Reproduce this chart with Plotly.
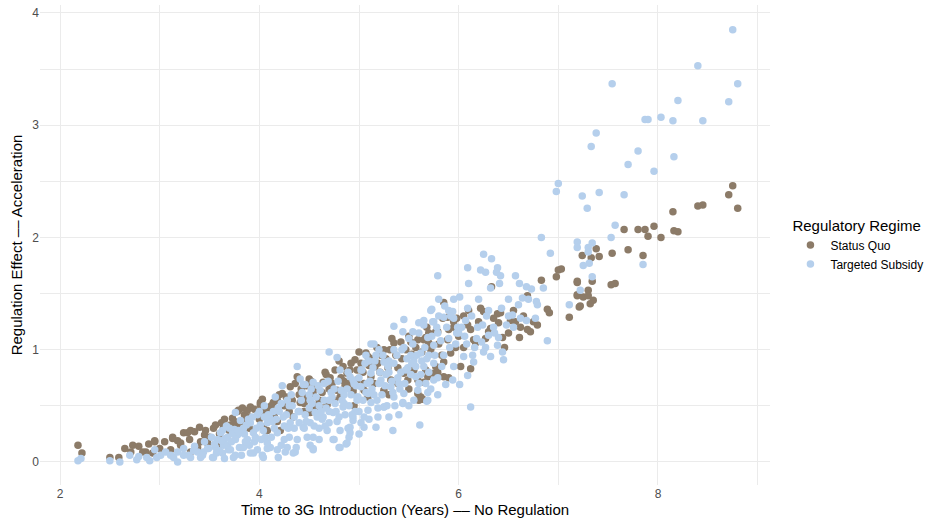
import plotly.graph_objects as go

# ---- Data ----
sq_x = [2.18, 2.22, 2.50, 2.59, 2.73, 2.79, 2.71, 2.86, 2.89, 2.95, 3.05, 3.13, 3.18, 3.24, 3.28, 3.35, 3.40, 3.46, 3.54, 3.64,
        3.73, 3.78, 3.11, 3.21, 3.31, 3.38, 3.48, 3.58,
        3.31, 3.56, 3.71, 3.79, 3.83, 3.91, 4.01, 4.06, 3.99, 3.81, 3.78, 3.84, 2.83, 2.93, 3.21, 3.41, 3.13, 2.95,
        4.01, 4.14, 4.23, 4.31, 4.38, 4.48, 4.54, 4.64, 4.71, 4.84, 4.88, 4.98, 5.02, 5.09, 5.10, 5.05, 4.94, 4.81,
        4.68, 4.51, 4.34, 4.18, 4.08, 4.04, 4.21, 4.41, 4.61, 4.78,
        5.35, 5.42, 5.52, 5.59, 5.65, 5.70, 5.77, 5.25, 5.22, 5.19, 5.29, 5.39, 5.45, 5.55, 5.59, 5.69, 5.75, 5.62,
        5.49, 5.39, 5.12, 5.05, 4.98, 4.91, 4.94, 5.09, 5.25, 5.32,
        7.00, 6.98, 6.83, 7.19, 7.19, 7.21, 6.33, 6.69, 6.89, 6.91, 6.22, 6.25, 6.39, 6.42, 6.40, 6.52, 6.57, 6.62,
        6.69, 6.72, 6.79, 6.61, 6.32, 6.30, 6.44, 6.46, 6.15, 6.17, 6.09, 6.12, 5.98, 5.95, 5.89, 5.79, 5.67, 5.70,
        5.89, 5.97, 6.05, 5.92, 5.85, 6.02, 6.12, 5.77, 5.79, 5.67, 5.65, 5.85, 5.90, 5.64, 5.85, 5.84,
        8.15, 7.66, 7.80, 7.87, 7.90, 7.96, 8.03, 8.16, 8.20, 7.38, 7.24, 7.33, 7.41, 7.54, 7.70, 7.85, 7.03, 7.19,
        7.34, 7.53, 7.57, 7.30, 7.19, 7.25, 7.30, 7.35, 7.32, 7.22, 7.11,
        8.75, 8.71, 8.40, 8.45, 8.80,
        4.10, 4.25, 4.40, 4.55, 4.70, 4.85, 4.45, 4.60, 4.90, 3.90, 3.60, 3.70, 5.59, 5.60,
        3.85, 3.95, 4.05, 4.12, 4.18, 4.27, 4.33, 4.42, 4.47, 4.52, 4.58, 4.63, 4.67, 4.73, 4.76, 4.82, 4.86, 4.92,
        4.96, 5.04, 5.07, 5.13, 5.16, 5.21, 5.27, 5.31, 5.37, 5.43, 5.47, 5.53, 5.57, 5.63, 5.72, 5.80, 5.83, 5.90,
        6.00, 6.05, 6.20, 6.27, 6.35, 6.50, 6.55, 6.65, 6.75,
        3.90, 4.00, 4.15, 4.30, 4.45, 4.55, 4.75, 4.95, 5.15, 5.30, 5.50, 3.50, 3.65, 3.75, 3.30, 3.00, 2.65,
        3.45, 3.62, 3.88, 4.03, 4.20, 4.36, 4.50, 4.66, 4.80, 5.00, 5.18, 5.33, 5.50, 5.68, 5.95, 6.10]
sq_y = [0.15, 0.08, 0.04, 0.04, 0.15, 0.14, 0.09, 0.09, 0.16, 0.19, 0.18, 0.21, 0.19, 0.26, 0.26, 0.27, 0.31, 0.28, 0.30, 0.31,
        0.39, 0.45, 0.11, 0.15, 0.09, 0.13, 0.17, 0.15,
        0.28, 0.33, 0.33, 0.46, 0.48, 0.49, 0.51, 0.49, 0.44, 0.36, 0.31, 0.36, 0.09, 0.08, 0.17, 0.18, 0.22, 0.18,
        0.53, 0.53, 0.61, 0.67, 0.76, 0.58, 0.61, 0.71, 0.75, 0.85, 0.79, 0.82, 0.88, 0.94, 0.86, 0.70, 0.61, 0.58,
        0.51, 0.44, 0.40, 0.36, 0.28, 0.31, 0.28, 0.53, 0.49, 0.64,
        1.06, 1.07, 1.07, 1.09, 1.09, 1.15, 1.16, 1.00, 0.95, 0.88, 0.84, 0.84, 0.79, 0.82, 0.73, 0.76, 0.79, 0.58,
        0.73, 0.70, 0.76, 0.64, 0.73, 0.82, 0.64, 0.58, 0.64, 0.73,
        1.71, 1.65, 1.62, 1.60, 1.49, 1.38, 1.56, 1.48, 1.36, 1.33, 1.37, 1.34, 1.32, 1.33, 1.24, 1.26, 1.25, 1.20,
        1.18, 1.16, 1.22, 1.11, 1.19, 1.16, 1.11, 1.02, 1.09, 1.06, 1.22, 1.18, 1.28, 1.20, 1.29, 1.16, 1.11, 1.06,
        1.09, 1.02, 1.02, 0.97, 0.89, 0.85, 0.83, 0.85, 0.80, 0.82, 0.71, 0.76, 0.75, 0.56, 1.42, 1.28,
        2.23, 2.07, 2.07, 2.07, 2.01, 2.10, 2.00, 2.06, 2.05, 1.90, 1.84, 1.82, 1.83, 1.86, 1.89, 1.84, 1.72, 1.61,
        1.61, 1.58, 1.59, 1.53, 1.48, 1.47, 1.48, 1.44, 1.41, 1.39, 1.29,
        2.46, 2.38, 2.28, 2.29, 2.26,
        0.45, 0.50, 0.60, 0.68, 0.65, 0.72, 0.45, 0.55, 0.70, 0.40, 0.25, 0.28, 0.61, 0.55,
        0.42, 0.47, 0.45, 0.50, 0.55, 0.58, 0.55, 0.65, 0.68, 0.72, 0.66, 0.62, 0.78, 0.70, 0.82, 0.75, 0.68, 0.88,
        0.91, 0.80, 0.97, 0.92, 0.85, 0.80, 0.92, 1.00, 0.95, 0.92, 1.00, 0.96, 1.02, 0.98, 1.00, 1.05, 0.95, 1.18,
        1.12, 1.30, 1.25, 1.10, 1.28, 1.15, 1.35, 1.30, 1.25,
        0.30, 0.38, 0.42, 0.45, 0.52, 0.50, 0.55, 0.50, 0.70, 0.60, 0.65, 0.22, 0.38, 0.36, 0.20, 0.12, 0.12,
        0.24, 0.35, 0.46, 0.56, 0.60, 0.70, 0.74, 0.80, 0.90, 0.98, 1.02, 1.10, 1.12, 1.20, 1.25, 1.35]

ts_x = [8.75, 8.40, 8.80, 7.54, 8.71, 8.20, 7.87, 7.90, 8.03, 8.15, 8.45, 7.38, 7.33, 7.80, 7.70, 8.16, 7.96, 7.00, 6.98, 7.24,
        7.41, 7.66, 7.29,
        7.57, 7.53, 7.19, 7.19, 7.34, 7.30, 7.30, 7.31, 7.25, 7.85, 7.34, 7.22, 7.11, 6.83,
        6.25, 6.33, 6.92, 6.09, 6.22, 6.27, 6.39, 6.38, 6.42, 5.79, 6.57, 6.61, 6.10, 6.41, 6.32, 6.68, 6.73, 6.64,
        6.78, 6.79, 5.95, 6.01, 5.86, 5.90, 5.94, 5.73, 6.09, 6.43, 6.54, 6.62, 6.68, 6.77, 6.89, 5.65, 5.75, 5.85,
        5.95, 5.99, 6.07, 6.19, 6.24, 6.30, 6.40, 6.23, 6.27, 6.39, 6.44, 6.32, 6.45, 6.14, 6.05, 6.15, 6.09, 6.01,
        5.87, 5.94, 5.75, 5.69, 5.79, 5.68, 6.12,
        4.70, 4.78, 4.38, 5.12, 5.15, 4.23, 4.41, 4.46, 4.54, 4.19, 4.36, 4.54, 4.80, 4.87, 4.75, 4.89, 4.91, 5.02,
        5.05, 5.17, 5.34, 5.61, 5.44, 5.19, 5.25, 3.76, 3.94, 4.03, 4.11, 4.26, 4.51,
        2.18, 2.21, 2.50, 2.60, 2.70, 2.77, 2.79, 2.87, 2.90, 2.95, 3.01, 3.06, 3.11, 3.18, 3.18, 3.24, 3.29, 3.34,
        3.41, 3.44, 3.49, 3.54, 3.56, 3.63, 3.66, 3.69, 3.74, 3.76, 3.78, 3.80, 3.68, 3.63,
        2.97, 3.14, 3.24, 3.31, 3.38, 3.43, 3.48, 3.53, 3.58, 3.64, 3.61, 3.68, 3.71, 3.81, 3.84, 3.76, 3.88, 3.91,
        3.94, 3.98, 4.01, 4.06, 4.08, 3.98, 3.91, 3.84,
        4.44, 4.16, 4.28, 4.51, 4.61, 4.81, 4.91, 5.02, 4.98, 4.84, 4.74, 4.58, 4.44, 4.31, 4.18, 4.08, 4.18, 4.28,
        4.38, 4.54, 4.68, 4.81, 4.91, 5.09, 5.09, 4.74, 4.88, 4.81, 4.54, 4.34, 4.04, 4.64, 4.51, 4.94,
        5.72, 5.45, 5.35, 5.60, 5.65, 5.74, 5.44, 5.54, 5.69, 5.79, 5.07, 5.17, 5.35, 5.45, 5.52, 5.62, 5.75, 5.65,
        5.75, 5.79, 5.67, 5.59, 5.69, 5.45, 5.32, 5.22, 5.12, 5.02, 4.94, 4.98, 5.12, 5.25, 5.35, 5.44, 5.05, 5.19,
        4.94, 5.57, 5.49, 5.35, 5.25,
        4.10, 4.20, 4.30, 4.40, 4.50, 4.60, 4.70, 4.80, 4.90, 4.70, 4.45, 4.25, 4.35, 4.60, 4.85, 4.65, 4.75, 5.00,
        3.95, 4.05, 4.15, 3.85, 3.70, 5.30, 5.40, 5.15, 5.20, 5.10, 5.50, 5.55, 5.30, 5.40, 5.55, 5.70, 5.60, 5.80,
        5.90, 6.00, 5.80, 5.95, 6.20, 6.30, 6.50, 6.55,
        3.55, 3.60, 3.65, 3.72, 3.75, 3.82, 3.87, 3.90, 3.93, 3.97, 4.02, 4.05, 4.08, 4.12, 4.14, 4.17, 4.22, 4.22,
        4.25, 4.27, 4.30, 4.32, 4.35, 4.37, 4.40, 4.42, 4.46, 4.48, 4.50, 4.52, 4.55, 4.57, 4.60, 4.62, 4.65, 4.66,
        4.70, 4.72, 4.76, 4.78, 4.79, 4.83, 4.86, 4.88, 4.90, 4.92, 4.96, 4.97, 5.00, 5.00, 5.04, 5.06, 5.08, 5.10,
        5.13, 5.14, 5.18, 5.20, 5.23, 5.24, 5.27, 5.28, 5.30, 5.33, 5.36, 5.38, 5.41, 5.42, 5.46, 5.48, 5.50, 5.52,
        5.54, 5.57, 5.60, 5.63, 5.66, 5.70, 5.72, 5.76, 5.78, 5.82, 5.85, 5.88, 5.92, 5.97, 6.03, 6.08, 6.13, 6.18,
        6.25, 6.35, 6.50, 6.60, 6.70, 6.85,
        3.35, 3.45, 3.52, 3.57, 3.62, 3.67, 3.73, 3.79, 3.86, 3.89, 3.96, 4.00, 4.04, 4.09, 4.13, 4.19, 4.24, 4.29,
        4.33, 4.39, 4.43, 4.47, 4.53, 4.56, 4.59, 4.63, 4.67, 4.69, 4.73, 4.77, 4.82, 4.85, 4.89, 4.93, 4.95, 4.99,
        5.03, 5.07, 5.11, 5.16, 5.21, 5.26, 5.29, 5.34, 5.39, 5.43, 5.47, 5.53, 5.58, 5.62, 5.68, 5.73, 5.83, 5.91,
        5.98, 6.06, 6.16, 6.28, 6.36, 6.48]
ts_y = [3.85, 3.53, 3.37, 3.37, 3.21, 3.22, 3.05, 3.05, 3.07, 3.04, 3.04, 2.93, 2.81, 2.77, 2.65, 2.72, 2.59, 2.48, 2.41, 2.37,
        2.40, 2.38, 2.26,
        2.11, 2.00, 1.96, 1.91, 1.95, 1.91, 1.87, 1.77, 1.75, 1.76, 1.65, 1.53, 1.40, 2.00,
        1.85, 1.81, 1.86, 1.73, 1.71, 1.69, 1.73, 1.69, 1.66, 1.66, 1.66, 1.59, 1.59, 1.59, 1.55, 1.56, 1.54, 1.46,
        1.43, 1.40, 1.45, 1.47, 1.39, 1.35, 1.34, 1.36, 1.37, 1.37, 1.31, 1.28, 1.26, 1.28, 1.08, 1.26, 1.25, 1.29,
        1.28, 1.20, 1.26, 1.20, 1.22, 1.13, 1.11, 1.07, 1.02, 1.04, 0.98, 0.94, 0.91, 0.95, 0.94, 0.89, 0.77, 0.69,
        0.69, 0.73, 0.73, 0.62, 0.60, 0.54, 0.49,
        0.98, 0.93, 0.85, 1.05, 1.05, 0.68, 0.74, 0.69, 0.71, 0.04, 0.09, 0.12, 0.13, 0.16, 0.20, 0.30, 0.26, 0.35,
        0.31, 0.31, 0.28, 0.33, 0.52, 0.48, 0.49, 0.06, 0.08, 0.06, 0.13, 0.09, 0.15,
        0.01, 0.03, 0.01, 0.00, 0.06, 0.02, 0.05, 0.04, 0.01, 0.11, 0.06, 0.09, 0.06, 0.00, 0.09, 0.12, 0.06, 0.10,
        0.04, 0.09, 0.12, 0.04, 0.13, 0.08, 0.21, 0.11, 0.04, 0.44, 0.24, 0.13, 0.15, 0.28,
        0.04, 0.04, 0.06, 0.04, 0.09, 0.06, 0.12, 0.04, 0.20, 0.15, 0.26, 0.22, 0.11, 0.37, 0.30, 0.20, 0.20, 0.35,
        0.26, 0.42, 0.33, 0.22, 0.12, 0.11, 0.08, 0.13,
        0.69, 0.58, 0.55, 0.55, 0.64, 0.82, 0.76, 0.67, 0.55, 0.49, 0.44, 0.40, 0.31, 0.35, 0.26, 0.17, 0.11, 0.13,
        0.20, 0.22, 0.28, 0.28, 0.31, 0.46, 0.61, 0.20, 0.17, 0.13, 0.11, 0.08, 0.04, 0.40, 0.35, 0.40,
        1.35, 1.27, 1.21, 1.24, 1.22, 1.25, 1.16, 1.16, 1.11, 1.15, 0.95, 0.95, 1.00, 1.02, 0.95, 0.97, 1.04, 0.85,
        0.88, 0.75, 0.70, 0.64, 0.55, 0.61, 0.67, 0.73, 0.79, 0.82, 0.73, 0.58, 0.53, 0.49, 0.58, 0.53, 0.40, 0.40,
        0.37, 0.76, 0.84, 0.88, 0.89,
        0.40, 0.45, 0.50, 0.45, 0.60, 0.50, 0.55, 0.40, 0.50, 0.35, 0.30, 0.20, 0.30, 0.30, 0.60, 0.70, 0.65, 0.45,
        0.18, 0.40, 0.30, 0.25, 0.30, 0.40, 0.42, 0.60, 1.00, 0.90, 1.10, 0.90, 0.80, 0.70, 0.55, 0.95, 1.15, 1.30,
        1.10, 1.15, 1.45, 0.85, 1.45, 1.35, 1.45, 1.20,
        0.16, 0.10, 0.03, 0.18, 0.29, 0.06, 0.33, 0.15, 0.40, 0.30, 0.20, 0.50, 0.35, 0.22, 0.45, 0.38, 0.15, 0.52,
        0.32, 0.42, 0.22, 0.60, 0.40, 0.13, 0.35, 0.55, 0.42, 0.22, 0.48, 0.65, 0.32, 0.58, 0.20, 0.45, 0.55, 0.32,
        0.45, 0.62, 0.52, 0.36, 0.72, 0.55, 0.42, 0.65, 0.22, 0.60, 0.45, 0.68, 0.75, 0.25, 0.55, 0.88, 0.70, 0.38,
        0.65, 0.84, 0.55, 0.70, 0.60, 0.95, 0.78, 0.50, 0.90, 0.72, 0.50, 0.95, 0.65, 0.80, 0.70, 0.92, 0.50, 0.78,
        1.05, 0.85, 0.70, 0.90, 1.02, 0.80, 0.65, 0.95, 1.20, 1.08, 0.95, 1.20, 1.30, 1.05, 1.20, 1.05, 1.30, 1.10,
        0.98, 1.20, 1.30, 1.40, 1.45, 1.55,
        0.14, 0.18, 0.22, 0.08, 0.19, 0.32, 0.25, 0.28, 0.18, 0.38, 0.22, 0.45, 0.28, 0.42, 0.36, 0.48, 0.40, 0.30,
        0.50, 0.45, 0.62, 0.36, 0.52, 0.44, 0.68, 0.38, 0.48, 0.72, 0.58, 0.45, 0.64, 0.52, 0.80, 0.42, 0.70, 0.58,
        0.82, 0.62, 0.72, 0.90, 0.80, 0.68, 0.85, 0.62, 0.75, 1.00, 0.82, 0.88, 0.95, 0.78, 0.92, 1.12, 0.85, 1.02,
        1.15, 1.12, 1.02, 1.30, 1.15, 1.22]

series_names = ["Status Quo", "Targeted Subsidy"]
series_colors = ["#8C7B68", "#B5CFEC"]

FONT = "Liberation Sans, Arial, Helvetica, sans-serif"

fig = go.Figure()
for name, xs, ys, col in zip(series_names, [sq_x, ts_x], [sq_y, ts_y], series_colors):
    fig.add_trace(go.Scatter(x=xs, y=ys, mode="markers", name=name,
                             marker=dict(color=col, size=7.5, line=dict(width=0))))

fig.update_layout(
    width=933, height=527,
    margin=dict(l=40, r=163, t=5, b=42),
    paper_bgcolor="white", plot_bgcolor="white",
    font=dict(family=FONT, color="#000000"),
    legend=dict(
        title=dict(text="Regulatory Regime", font=dict(size=15, color="#000000")),
        font=dict(size=12, color="#000000"),
        x=1.028, xanchor="left", y=0.5, yanchor="middle",
        itemsizing="trace", tracegroupgap=4,
    ),
    xaxis=dict(
        range=[1.799, 9.124], tickvals=[2, 4, 6, 8], ticktext=["2", "4", "6", "8"],
        showgrid=True, gridcolor="#EBEBEB", gridwidth=1.1,
        minor=dict(tickvals=[3, 5, 7, 9], showgrid=True, gridcolor="#EBEBEB", gridwidth=0.6),
        zeroline=False, showline=False, ticks="",
        tickfont=dict(size=12, color="#4D4D4D"),
        title=dict(text="Time to 3G Introduction (Years) –– No Regulation",
                   font=dict(size=15, color="#000000"), standoff=4),
    ),
    yaxis=dict(
        range=[-0.205, 4.071], tickvals=[0, 1, 2, 3, 4], ticktext=["0", "1", "2", "3", "4"],
        showgrid=True, gridcolor="#EBEBEB", gridwidth=1.1,
        minor=dict(tickvals=[0.5, 1.5, 2.5, 3.5], showgrid=True, gridcolor="#EBEBEB", gridwidth=0.6),
        zeroline=False, showline=False, ticks="",
        tickfont=dict(size=12, color="#4D4D4D"),
        title=dict(text="Regulation Effect –– Acceleration",
                   font=dict(size=15, color="#000000"), standoff=6),
    ),
)

fig.write_html("out.html")
